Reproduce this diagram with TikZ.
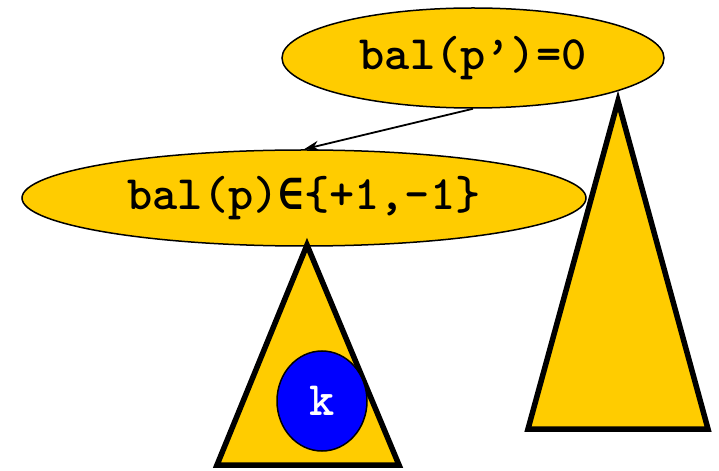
\documentclass[tikz,border=0pt]{standalone}
\usepackage{fontspec}
\newfontfamily\symfont{DejaVu Sans Mono}
\usetikzlibrary{shapes.geometric,arrows.meta}
\definecolor{gold}{HTML}{FFCC00}
\definecolor{keyblue}{HTML}{0000FF}
\begin{document}
\begin{tikzpicture}[x=1bp, y=-1bp,
  bal/.style={ellipse, draw, fill=gold, line width=1.5bp, inner sep=0pt, font=\fontsize{48bp}{56bp}\selectfont\ttfamily\bfseries},
  tree/.style={draw, fill=gold, line width=5.5bp}]
\useasboundingbox (0,0) rectangle (719,471);
\node[bal, minimum width=382bp, minimum height=100bp] (pp) at (473,58) {bal(p’)=0};
\node[bal, minimum width=564bp, minimum height=96bp] (p) at (304,198) {bal(p){\symfont\fontsize{42bp}{50bp}\selectfont ∈}\{+1,-1\}};
\draw[line width=1.8bp, -{Stealth[length=15bp, width=10bp]}] (pp.south) -- (p.north);
% subtrees
\coordinate (rt) at (618,101); \coordinate (rl) at (528,429); \coordinate (rr) at (708,429);
\coordinate (lt) at (307,245); \coordinate (ll) at (217,465); \coordinate (lr) at (399,465);
\draw[tree] (rt) -- (rl) -- (rr) -- cycle;
\draw[tree] (lt) -- (ll) -- (lr) -- cycle;
\node[ellipse, draw, fill=keyblue, line width=1.5bp, minimum width=90bp, minimum height=100bp, inner sep=0pt, text=white, font=\fontsize{48bp}{56bp}\selectfont\ttfamily\bfseries] (k) at (322,401) {k};
\end{tikzpicture}
\end{document}
